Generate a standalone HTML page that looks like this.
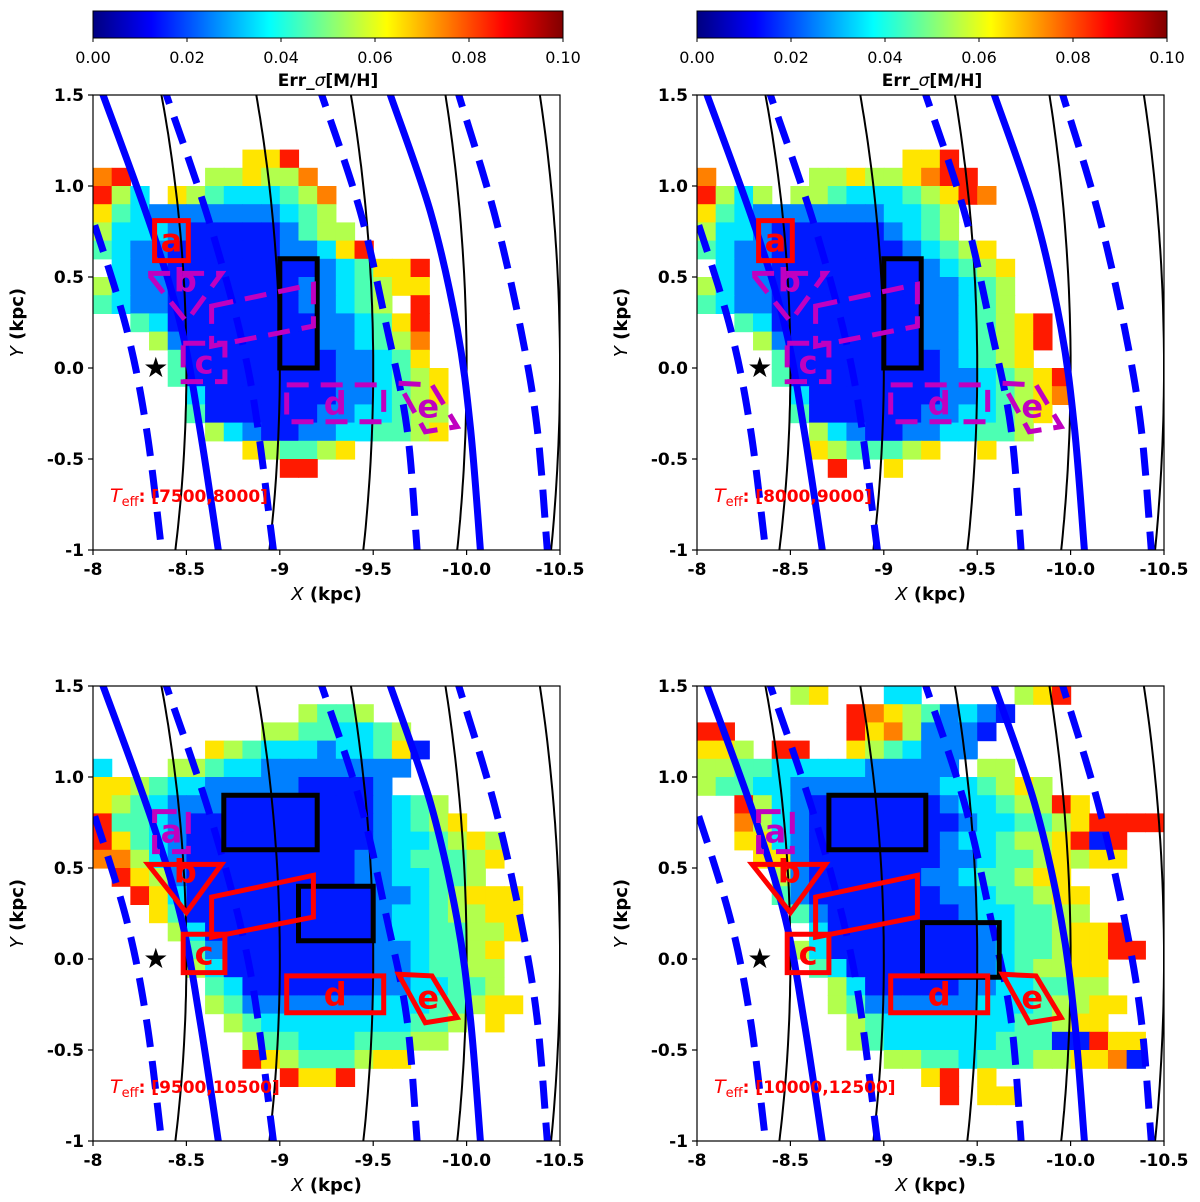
<!DOCTYPE html>
<html><head><meta charset="utf-8"><style>
html,body{margin:0;padding:0;background:#fff;}
svg{display:block;font-family:"DejaVu Sans","Liberation Sans",sans-serif;}
</style></head><body>
<svg id="fig" width="1200" height="1202" viewBox="0 0 1200 1202" xmlns="http://www.w3.org/2000/svg"></svg>
<script>
// ===== data =====
const xTicks = [-8, -8.5, -9, -9.5, -10, -10.5];
const xTickLabels = ["-8", "-8.5", "-9", "-9.5", "-10.0", "-10.5"];
const yTicks = [1.5, 1.0, 0.5, 0.0, -0.5, -1];
const yTickLabels = ["1.5", "1.0", "0.5", "0.0", "-0.5", "-1"];
const cbTicks = [0, 0.02, 0.04, 0.06, 0.08, 0.10];
const cbTickLabels = ["0.00", "0.02", "0.04", "0.06", "0.08", "0.10"];
const teffLabels = ["[7500,8000]", "[8000,9000]", "[9500,10500]", "[10000,12500]"];
const ringRadii = [8.5, 9.0, 9.5, 10.0, 10.5];
// spiral arms: [X,Y] points
const armSolid1 = [[-8.03,1.56],[-8.054,1.5],[-8.313,0.767],[-8.474,0.218],[-8.572,-0.332],[-8.671,-1.0],[-8.68,-1.06]];
const armSolid2 = [[-9.57,1.56],[-9.592,1.5],[-9.806,0.859],[-9.949,0.218],[-10.021,-0.332],[-10.074,-1.0],[-10.08,-1.06]];
const armDash1 = [[-7.93,1.0],[-8.0,0.813],[-8.179,0.218],[-8.286,-0.332],[-8.367,-1.0],[-8.375,-1.06]];
const armDash2 = [[-8.37,1.56],[-8.393,1.5],[-8.644,0.731],[-8.84,-0.057],[-8.966,-1.0],[-8.975,-1.06]];
const armDash3 = [[-9.205,1.56],[-9.225,1.5],[-9.431,0.859],[-9.574,0.218],[-9.681,-0.332],[-9.735,-1.0],[-9.74,-1.06]];
const armDash4 = [[-9.94,1.56],[-9.958,1.5],[-10.146,0.859],[-10.289,0.218],[-10.378,-0.332],[-10.432,-1.0],[-10.44,-1.06]];
const sunPos = [-8.336, 0.0];
// region shapes
const regionA = [[-8.33,0.81],[-8.51,0.81],[-8.51,0.59],[-8.33,0.59]];
const regionB = [[-8.295,0.52],[-8.688,0.52],[-8.50,0.255]];
const regionC = [[-8.483,0.136],[-8.706,0.136],[-8.706,-0.075],[-8.483,-0.075]];
const regionP = [[-8.635,0.34],[-9.18,0.46],[-9.18,0.23],[-8.635,0.12]];
const regionD = [[-9.037,-0.093],[-9.556,-0.093],[-9.556,-0.295],[-9.037,-0.295]];
const regionE = [[-9.636,-0.084],[-9.815,-0.093],[-9.949,-0.322],[-9.779,-0.35]];
const blackTop = [[[-9.0,0.6],[-9.2,0.6],[-9.2,0.0],[-9.0,0.0]]];
const blackBL = [[[-8.7,0.9],[-9.2,0.9],[-9.2,0.6],[-8.7,0.6]],[[-9.1,0.4],[-9.5,0.4],[-9.5,0.1],[-9.1,0.1]]];
const blackBR = [[[-8.706,0.9],[-9.225,0.9],[-9.225,0.6],[-8.706,0.6]],[[-9.207,0.2],[-9.618,0.2],[-9.618,-0.1],[-9.207,-0.1]]];
// heatmap grids: rows from Y=1.5 down, cols from X=-8; 0.1 kpc cells; digit = err*100, '.' = empty
const gridTL = [
".........................",".........................",".........................",
"........668..............",
"78....556557.............",
"853.654333457............",
"6432222222345............",
"53332111112455...........",
"432211111122368..........",
".32211111111234668.......",
"532211111112234566.......",
"4322111111122345.8.......",
"..4311111111223468.......",
"...521111111223457.......",
"....41111111122346.......",
"....411111111223456......",
".....31111111223456......",
".....41111112233455......",
"......5321122334456......",
"........654456...........",
"..........88.............",
".........................",".........................",".........................","........................."];
const gridTR = [
".........................",".........................",".........................",
"...........668...........",
"7.....556556788..........",
"8535.55433345687.........",
"64322222223345...........",
"53321111112345...........",
"4322111111123456.........",
".3221111111123456........",
"53221111111122345........",
"43221111111122345........",
"..43111111112234568......",
"...5211111112234568......",
"....41111111123456.......",
"....4111111112234568.....",
".....311111112234567.....",
".....41111112233456......",
"......532112233445.......",
"......6544456..6.........",
".......8..6..............",
".........................",".........................",".........................","........................."];
const gridBL = [
".........................",
"...........5445..........",
".........55443345........",
"......654333233461.......",
"3...5543322222222........",
"6654332222211112.........",
"6543222111111112345......",
"84432111111111123456.....",
"8643211111111112334565...",
"7753211111111122344456...",
".86521111111112233445....",
"..863111111111122345666..",
"...64111111111123345566..",
"....5311111111123344556..",
".....42111111112234456...",
".....53111111112234455...",
"......4311111112233445...",
"......54222222233344566..",
".......5433333333445.6...",
"........54433344455......",
"........865444566........",
"..........8668...........",
".........................",".........................","........................."];
const gridBR = [
".....56...33.....568.....",
"........876542321........",
"88......86752221.........",
"665.88..6543222..........",
"55443333322222.55........",
"5443322222222334565......",
"..8532111111123345586....",
"..753211111111233445688888",
"..663211111112334556818..",
"...66211111112234456566..",
"....5211111122344566.....",
"....42111111122344566....",
".....4211111112334455....",
"......31111111123445668..",
".....5311111111234456688.",
"......4311111112345566...",
".......531111122334455...",
".......5422222233345566..",
"........54333333344566...",
"........5433333344411866.",
"..........55443444556671.",
"............68.6.........",
".............8.66........",
".........................","........................."];

// ===== helpers =====
const NS = "http://www.w3.org/2000/svg";
const svg = document.getElementById("fig");
function el(tag, attrs, parent){const e=document.createElementNS(NS,tag);for(const k in attrs)e.setAttribute(k,attrs[k]);(parent||svg).appendChild(e);return e;}
function jet(v){
  function c(x){return Math.max(0,Math.min(1,x));}
  const r=c(1.5-Math.abs(4*v-3)), g=c(1.5-Math.abs(4*v-2)), b=c(1.5-Math.abs(4*v-1));
  return "rgb("+Math.round(r*255)+","+Math.round(g*255)+","+Math.round(b*255)+")";
}
const PW=467, PH=455;
const panels=[
 {x0:93,y0:95,grid:gridTL,black:blackTop,solid:false,name:"panel-top-left"},
 {x0:697,y0:95,grid:gridTR,black:blackTop,solid:false,name:"panel-top-right"},
 {x0:93,y0:686,grid:gridBL,black:blackBL,solid:true,name:"panel-bottom-left"},
 {x0:697,y0:686,grid:gridBR,black:blackBR,solid:true,name:"panel-bottom-right"}];

// ===== colorbars =====
[93,697].forEach(function(cx,ci){
  const g=el("g",{});
  
  
  const gid="jetgrad"+ci;
  const defs=el("defs",{},g);
  const lg=el("linearGradient",{id:gid,x1:"0",x2:"1",y1:"0",y2:"0"},defs);
  for(let i=0;i<=40;i++){el("stop",{offset:(i/40),"stop-color":jet(i/40)},lg);}
  const W=470;
  el("rect",{x:cx,y:11,width:W,height:27,fill:"url(#"+gid+")",stroke:"#000","stroke-width":1},g);
  cbTicks.forEach(function(t,i){
    const x=cx+t/0.1*W;
    el("line",{x1:x,x2:x,y1:38,y2:42,stroke:"#000"},g);
    const tx=el("text",{x:x,y:63,"font-size":16,"text-anchor":"middle"},g);
    tx.textContent=cbTickLabels[i];
  });
  const lab=el("text",{x:cx+W/2,y:86,"font-size":17,"font-weight":"bold","text-anchor":"middle"},g);
  lab.innerHTML='Err_<tspan font-style="italic" font-weight="normal">σ</tspan>[M/H]';
});

function smoothPath(P){
  let d="M"+P[0][0].toFixed(1)+","+P[0][1].toFixed(1);
  for(let i=0;i<P.length-1;i++){
    const p0=P[i-1]||P[i], p1=P[i], p2=P[i+1], p3=P[i+2]||P[i+1];
    const c1=[p1[0]+(p2[0]-p0[0])/6, p1[1]+(p2[1]-p0[1])/6];
    const c2=[p2[0]-(p3[0]-p1[0])/6, p2[1]-(p3[1]-p1[1])/6];
    d+="C"+c1[0].toFixed(1)+","+c1[1].toFixed(1)+" "+c2[0].toFixed(1)+","+c2[1].toFixed(1)+" "+p2[0].toFixed(1)+","+p2[1].toFixed(1);
  }
  return d;
}

// ===== panels =====
panels.forEach(function(p,pi){
  const sx=X=>p.x0+(-8-X)/2.5*PW;
  const sy=Y=>p.y0+(1.5-Y)/2.5*PH;
  const g=el("g",{});
  
  
  const defs=el("defs",{},g);
  const cp=el("clipPath",{id:"clip"+pi},defs);
  el("rect",{x:p.x0,y:p.y0,width:PW,height:PH},cp);
  const inner=el("g",{"clip-path":"url(#clip"+pi+")"},g);
  const hm=el("g",{},inner);
  
  
  p.grid.forEach(function(row,r){
    for(let c=0;c<25&&c<row.length;c++){
      const ch=row[c]; if(ch==="."||ch===undefined) continue;
      const v=(parseInt(ch,10)+0.5)/100;
      const X0=-8-0.1*c, Y0=1.5-0.1*r;
      const rc=el("rect",{x:sx(X0),y:sy(Y0),width:sx(X0-0.1)-sx(X0)+0.6,height:sy(Y0-0.1)-sy(Y0)+0.6,fill:jet(v/0.1)},hm);
      
      
    }
  });
  ringRadii.forEach(function(R){
    let d="";
    for(let i=0;i<=60;i++){const Y=1.6-2.7*i/60; const X=-Math.sqrt(R*R-Y*Y); d+=(i?"L":"M")+sx(X).toFixed(1)+","+sy(Y).toFixed(1);}
    const pth=el("path",{d:d,fill:"none",stroke:"#000","stroke-width":2},inner);
    
    
  });
  function arm(pts,dashed){
    const P=pts.map(q=>[sx(q[0]),sy(q[1])]);
    const pth=el("path",{d:smoothPath(P),fill:"none",stroke:"#0000ff","stroke-width":7},inner);
    if(dashed) pth.setAttribute("stroke-dasharray","28,14");
    
    
  }
  arm(armSolid1,false);arm(armSolid2,false);
  arm(armDash1,true);arm(armDash2,true);arm(armDash3,true);arm(armDash4,true);
  p.black.forEach(function(b){
    const pts=b.map(q=>sx(q[0]).toFixed(1)+","+sy(q[1]).toFixed(1)).join(" ");
    const pg=el("polygon",{points:pts,fill:"none",stroke:"#000","stroke-width":5},inner);
    
    
  });
  const regs=[["a",regionA],["b",regionB],["c",regionC],["",regionP],["d",regionD],["e",regionE]];
  regs.forEach(function(rr){
    const lbl=rr[0],pts=rr[1];
    let col,dash=null;
    if(!p.solid){ col = (lbl==="a")?"#ff0000":"#c000c0"; dash = (lbl==="a")?null:"22,12"; }
    else { col = (lbl==="a")?"#c000c0":"#ff0000"; dash=(lbl==="a")?"22,12":null; }
    const pg=el("polygon",{points:pts.map(q=>sx(q[0]).toFixed(1)+","+sy(q[1]).toFixed(1)).join(" "),fill:"none",stroke:col,"stroke-width":5},inner);
    if(dash) pg.setAttribute("stroke-dasharray",dash);
    
    
    if(lbl){
      let cx=0,cy=0; pts.forEach(q=>{cx+=q[0];cy+=q[1];}); cx/=pts.length; cy/=pts.length;
      if(lbl==="b") cy+=0.05;
      const t=el("text",{x:sx(cx),y:sy(cy)+11,"font-size":32,"font-weight":"bold","text-anchor":"middle",fill:col},inner);
      t.textContent=lbl;
      
      
    }
  });
  const star=el("text",{x:sx(sunPos[0]),y:sy(sunPos[1])+9,"font-size":28,"text-anchor":"middle",fill:"#000"},inner);
  star.textContent="★";
  
  
  const tl=el("text",{x:p.x0+17,y:p.y0+407,"font-size":17,fill:"#ff0000","font-weight":"bold"},g);
  tl.innerHTML='<tspan font-style="italic" font-weight="normal" font-size="19">T</tspan><tspan font-weight="normal" font-size="13" dy="4">eff</tspan><tspan dy="-4">: '+teffLabels[pi]+'</tspan>';
  
  
  el("rect",{x:p.x0,y:p.y0,width:PW,height:PH,fill:"none",stroke:"#000","stroke-width":1.2},g);
  xTicks.forEach(function(t,i){
    const x=sx(t);
    el("line",{x1:x,x2:x,y1:p.y0+PH,y2:p.y0+PH+5,stroke:"#000","stroke-width":1.2},g);
    const tx=el("text",{x:x,y:p.y0+PH+25,"font-size":17,"font-weight":"bold","text-anchor":"middle"},g);
    tx.textContent=xTickLabels[i];
    
    
  });
  yTicks.forEach(function(t,i){
    const y=sy(t);
    el("line",{x1:p.x0-5,x2:p.x0,y1:y,y2:y,stroke:"#000","stroke-width":1.2},g);
    const tx=el("text",{x:p.x0-9,y:y+6,"font-size":17,"font-weight":"bold","text-anchor":"end"},g);
    tx.textContent=yTickLabels[i];
    
    
  });
  const xl=el("text",{x:p.x0+PW/2,y:p.y0+PH+50,"font-size":18,"font-weight":"bold","text-anchor":"middle"},g);
  xl.innerHTML='<tspan font-style="italic" font-weight="normal">X</tspan> (kpc)';
  
  
  const yx=p.x0-70, yy=p.y0+PH/2;
  const yl=el("text",{x:yx,y:yy,"font-size":18,"font-weight":"bold","text-anchor":"middle",transform:"rotate(-90 "+yx+" "+yy+")"},g);
  yl.innerHTML='<tspan font-style="italic" font-weight="normal">Y</tspan> (kpc)';
  
  
});
</script>
</body></html>
